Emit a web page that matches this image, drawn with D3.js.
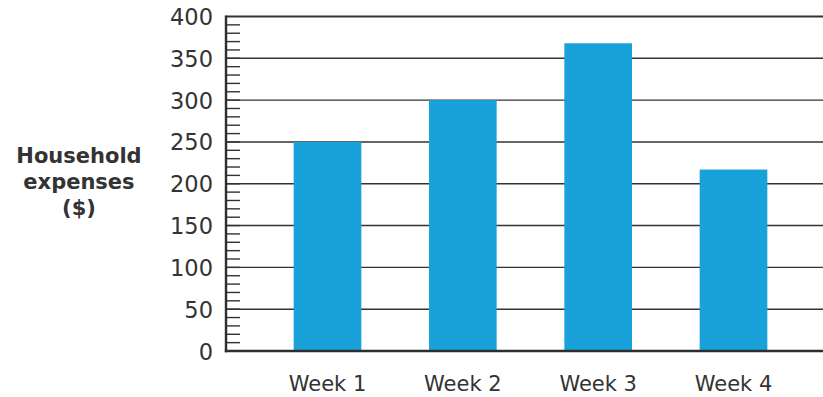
<!DOCTYPE html>
<html>
<head>
<meta charset="utf-8">
<script src="https://cdn.jsdelivr.net/npm/d3@7"></script>
<style>
  html, body { margin: 0; padding: 0; background: #ffffff; }
  svg { display: block; }
</style>
</head>
<body>
<svg id="chart" width="823" height="397"></svg>
<script>
const categories = ["Week 1", "Week 2", "Week 3", "Week 4"];
const values = [250, 300, 368, 217];
const yTickValues = [0, 50, 100, 150, 200, 250, 300, 350, 400];
const yTitleLines = ["Household", "expenses", "($)"];

const svg = d3.select("#chart");
const W = 823, H = 397;
const axisX = 226, y0 = 351, yTop = 16.5;

const y = d3.scaleLinear().domain([0, 400]).range([y0, yTop]);
const x = d3.scaleBand().domain(categories).range([axisX, 835]).paddingInner(0.5).paddingOuter(0.5);

const ink = "#2e2e2e";

// gridlines
svg.append("g").selectAll("line")
  .data(yTickValues.filter(v => v > 0 && v < 400))
  .join("line")
  .attr("x1", axisX).attr("x2", W)
  .attr("y1", d => y(d)).attr("y2", d => y(d))
  .attr("stroke", "#333").attr("stroke-width", 1.4);

// top border
svg.append("line").attr("x1", axisX).attr("x2", W)
  .attr("y1", y(400)).attr("y2", y(400))
  .attr("stroke", "#333").attr("stroke-width", 2.2);

// bars
svg.append("g").selectAll("rect")
  .data(categories.map((c, i) => ({c, v: values[i]})))
  .join("rect")
  .attr("x", d => x(d.c))
  .attr("width", x.bandwidth())
  .attr("y", d => y(d.v))
  .attr("height", d => y0 - y(d.v))
  .attr("fill", "#19a2da");

// minor ticks
svg.append("g").selectAll("line")
  .data(d3.range(10, 400, 10))
  .join("line")
  .attr("x1", axisX).attr("x2", axisX + 14)
  .attr("y1", d => y(d)).attr("y2", d => y(d))
  .attr("stroke", "#333").attr("stroke-width", 1.4);

// axis lines
svg.append("line").attr("x1", axisX).attr("x2", axisX)
  .attr("y1", y(400) - 1).attr("y2", y0 + 1.2)
  .attr("stroke", ink).attr("stroke-width", 2.4);
svg.append("line").attr("x1", axisX - 1.2).attr("x2", W)
  .attr("y1", y0).attr("y2", y0)
  .attr("stroke", ink).attr("stroke-width", 2.4);

// y tick labels
svg.append("g").selectAll("text")
  .data(yTickValues)
  .join("text")
  .attr("x", 213)
  .attr("y", d => y(d))
  .attr("dy", "0.38em")
  .attr("text-anchor", "end")
  .attr("font-family", "DejaVu Sans, sans-serif")
  .attr("font-size", 22.5)
  .attr("fill", "#333")
  .text(d => d);

// x labels
svg.append("g").selectAll("text")
  .data(categories)
  .join("text")
  .attr("x", d => x(d) + x.bandwidth() / 2)
  .attr("y", 391)
  .attr("text-anchor", "middle")
  .attr("font-family", "DejaVu Sans, sans-serif")
  .attr("font-size", 21)
  .attr("fill", "#333")
  .text(d => d);

// y title
svg.append("g").selectAll("text")
  .data(yTitleLines)
  .join("text")
  .attr("x", 79)
  .attr("y", (d, i) => 163 + i * 26)
  .attr("text-anchor", "middle")
  .attr("font-family", "DejaVu Sans, sans-serif")
  .attr("font-weight", "bold")
  .attr("font-size", 21)
  .attr("fill", "#333")
  .text(d => d);
</script>
</body>
</html>
